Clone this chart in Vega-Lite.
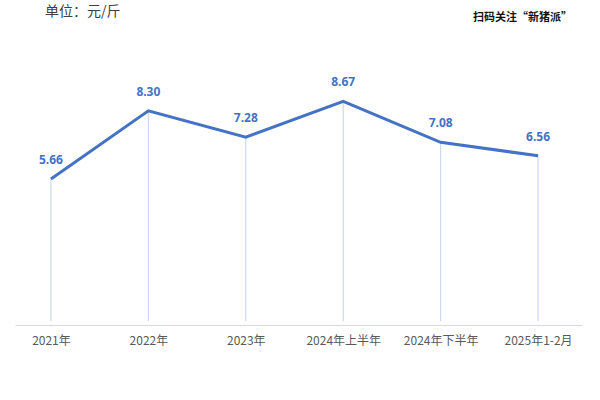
{
  "$schema": "https://vega.github.io/schema/vega-lite/v6.json",
  "width": 567,
  "height": 258,
  "autosize": {"type": "none"},
  "padding": {"left": 15, "top": 67, "right": 18, "bottom": 75},
  "background": "white",
  "config": {"view": {"stroke": null}, "font": "Noto Sans CJK SC"},
  "title": {
    "text": "单位：元/斤",
    "anchor": "start",
    "frame": "group",
    "dx": 30,
    "dy": 8,
    "offset": 0,
    "fontSize": 14,
    "fontWeight": "normal",
    "color": "#404040",
    "font": "Noto Sans CJK SC"
  },
  "data": {
    "values": [
      {"period": "2021年", "price": 5.66},
      {"period": "2022年", "price": 8.30},
      {"period": "2023年", "price": 7.28},
      {"period": "2024年上半年", "price": 8.67},
      {"period": "2024年下半年", "price": 7.08},
      {"period": "2025年1-2月", "price": 6.56}
    ]
  },
  "encoding": {
    "x": {
      "field": "period",
      "type": "nominal",
      "sort": null,
      "scale": {"type": "point", "padding": 0.41, "align": 0.45},
      "axis": {
        "title": null,
        "labelAngle": 0,
        "ticks": false,
        "domainColor": "#d9d9d9",
        "domainWidth": 1,
        "labelColor": "#595959",
        "labelFontSize": 12,
        "labelPadding": 10,
        "labelFont": "Noto Sans CJK SC"
      }
    }
  },
  "layer": [
    {
      "mark": {"type": "rule", "color": "#b4c7e7", "strokeWidth": 1, "opacity": 0.8},
      "encoding": {
        "y": {"field": "price", "type": "quantitative"},
        "y2": {"datum": 0.15}
      }
    },
    {
      "mark": {"type": "line", "color": "#4472C4", "strokeWidth": 3},
      "encoding": {
        "y": {
          "field": "price",
          "type": "quantitative",
          "scale": {"domain": [0, 10], "nice": false},
          "axis": {
            "orient": "right",
            "domain": false,
            "ticks": false,
            "labels": false,
            "grid": false,
            "title": "扫码关注“新猪派”",
            "titleAngle": 0,
            "titleX": -60,
            "titleY": -50,
            "titleAlign": "center",
            "titleBaseline": "middle",
            "titleFontSize": 11,
            "titleFontWeight": "bold",
            "titleColor": "#111111",
            "titleFont": "Noto Sans CJK SC"
          }
        }
      }
    },
    {
      "mark": {"type": "text", "color": "#4472C4", "fontWeight": "bold", "fontSize": 12, "dy": -19, "font": "Noto Sans"},
      "encoding": {
        "y": {"field": "price", "type": "quantitative"},
        "text": {"field": "price", "type": "quantitative", "format": ".2f"}
      }
    }
  ]
}
